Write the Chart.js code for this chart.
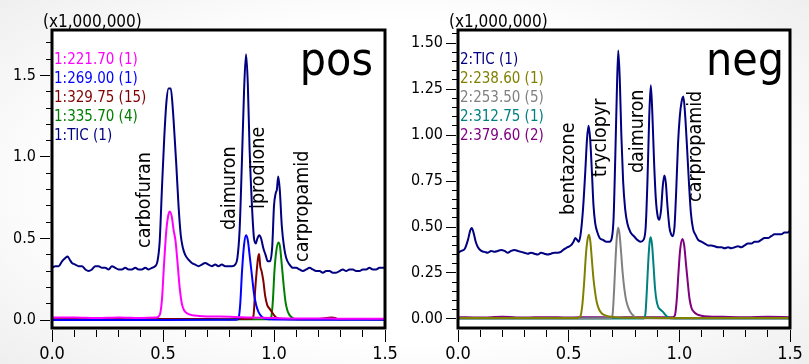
<!DOCTYPE html>
<html>
<head>
<meta charset="utf-8">
<script src="https://cdn.jsdelivr.net/npm/chart.js@4.4.1/dist/chart.umd.min.js"></script>
<style>
  html, body { margin: 0; padding: 0; }
  body {
    width: 809px; height: 364px; overflow: hidden; position: relative;
    background: radial-gradient(ellipse 75% 80% at 50% 50%, #ffffff 55%, #ebebeb 100%);
  }
  .panel { position: absolute; top: 0; height: 364px; }
  #posBox { left: 0; width: 404px; }
  #negBox { left: 404px; width: 405px; }
</style>
</head>
<body>
<div class="panel" id="posBox"><canvas id="posChart" width="404" height="364"></canvas></div>
<div class="panel" id="negBox"><canvas id="negChart" width="405" height="364"></canvas></div>
<script>
// ---------- positive mode traces (retention time in min, intensity x1,000,000) ----------
const posTicT = [
  0.000, 0.015, 0.030, 0.045, 0.060, 0.070, 0.080, 0.090, 0.105, 0.120,
  0.135, 0.150, 0.165, 0.180, 0.195, 0.210, 0.225, 0.240, 0.255, 0.270,
  0.285, 0.300, 0.315, 0.330, 0.345, 0.360, 0.375, 0.390, 0.405, 0.420,
  0.435, 0.450, 0.465, 0.475, 0.485, 0.495, 0.505, 0.515, 0.525, 0.535,
  0.545, 0.552, 0.560, 0.570, 0.580, 0.590, 0.600, 0.615, 0.630, 0.645,
  0.660, 0.675, 0.690, 0.705, 0.720, 0.735, 0.750, 0.765, 0.780, 0.795,
  0.810, 0.825, 0.835, 0.845, 0.855, 0.865, 0.874, 0.882, 0.890, 0.900,
  0.910, 0.918, 0.925, 0.933, 0.942, 0.952, 0.962, 0.972, 0.982, 0.992,
  1.000, 1.008, 1.013, 1.019, 1.026, 1.035, 1.045, 1.055, 1.070, 1.085,
  1.100, 1.115, 1.130, 1.145, 1.160, 1.175, 1.190, 1.205, 1.220, 1.235,
  1.250, 1.265, 1.280, 1.295, 1.310, 1.325, 1.340, 1.355, 1.370, 1.385,
  1.400, 1.415, 1.430, 1.445, 1.460, 1.475, 1.490, 1.500
];
const posTicY = [
  0.32, 0.33, 0.33, 0.36, 0.38, 0.39, 0.37, 0.35, 0.34, 0.33,
  0.33, 0.31, 0.30, 0.31, 0.33, 0.33, 0.32, 0.32, 0.31, 0.33,
  0.32, 0.31, 0.31, 0.32, 0.31, 0.31, 0.32, 0.31, 0.31, 0.32,
  0.31, 0.32, 0.33, 0.36, 0.48, 0.80, 1.10, 1.33, 1.42, 1.42,
  1.28, 1.13, 0.95, 0.70, 0.52, 0.44, 0.40, 0.37, 0.35, 0.34,
  0.33, 0.34, 0.35, 0.34, 0.33, 0.34, 0.33, 0.34, 0.33, 0.33,
  0.33, 0.34, 0.38, 0.55, 0.95, 1.40, 1.63, 1.45, 1.05, 0.72,
  0.50, 0.47, 0.50, 0.52, 0.50, 0.44, 0.40, 0.36, 0.36, 0.45,
  0.70, 0.78, 0.80, 0.88, 0.80, 0.58, 0.45, 0.38, 0.34, 0.32,
  0.32, 0.31, 0.30, 0.31, 0.32, 0.31, 0.30, 0.30, 0.29, 0.30,
  0.30, 0.29, 0.29, 0.30, 0.31, 0.30, 0.31, 0.31, 0.30, 0.30,
  0.31, 0.31, 0.32, 0.31, 0.31, 0.32, 0.32, 0.32
];
// m/z 221.70 (carbofuran)
const pos221T = [0.00, 0.10, 0.20, 0.30, 0.40, 0.47, 0.485, 0.495, 0.505, 0.515, 0.525, 0.531, 0.540, 0.548, 0.556, 0.565, 0.575, 0.585, 0.595, 0.610, 0.630, 0.660, 0.700, 0.800, 0.900, 1.000, 1.100, 1.200, 1.300, 1.400, 1.500];
const pos221Y = [0.015, 0.015, 0.012, 0.015, 0.012, 0.015, 0.03, 0.12, 0.35, 0.55, 0.65, 0.665, 0.63, 0.55, 0.49, 0.36, 0.20, 0.10, 0.06, 0.04, 0.03, 0.025, 0.022, 0.02, 0.015, 0.012, 0.01, 0.01, 0.008, 0.008, 0.008];
// m/z 269.00 (daimuron)
const pos269T = [0.00, 0.50, 0.83, 0.840, 0.848, 0.856, 0.865, 0.874, 0.882, 0.890, 0.900, 0.910, 0.920, 0.930, 0.945, 0.960, 1.00, 1.20, 1.50];
const pos269Y = [0.0, 0.0, 0.002, 0.01, 0.10, 0.30, 0.46, 0.52, 0.49, 0.40, 0.28, 0.16, 0.09, 0.05, 0.02, 0.008, 0.003, 0.002, 0.002];
// m/z 329.75 (iprodione)
const pos329T = [0.00, 0.20, 0.40, 0.60, 0.80, 0.900, 0.908, 0.915, 0.922, 0.928, 0.933, 0.938, 0.944, 0.952, 0.960, 0.970, 0.980, 0.990, 1.000, 1.010, 1.03, 1.10, 1.20, 1.26, 1.275, 1.29, 1.40, 1.50];
const pos329Y = [0.005, 0.008, 0.005, 0.006, 0.005, 0.008, 0.03, 0.18, 0.30, 0.38, 0.405, 0.33, 0.30, 0.24, 0.15, 0.09, 0.07, 0.05, 0.03, 0.015, 0.008, 0.005, 0.006, 0.015, 0.012, 0.005, 0.006, 0.005];
// m/z 335.70 (carpropamid)
const pos335T = [0.00, 0.50, 0.98, 0.988, 0.995, 1.002, 1.010, 1.020, 1.027, 1.035, 1.043, 1.052, 1.060, 1.070, 1.085, 1.10, 1.50];
const pos335Y = [0.003, 0.003, 0.004, 0.02, 0.12, 0.30, 0.42, 0.475, 0.45, 0.34, 0.22, 0.11, 0.06, 0.03, 0.012, 0.005, 0.003];

// ---------- negative mode traces ----------
const negTicT = [
  0.000, 0.015, 0.030, 0.045, 0.055, 0.062, 0.070, 0.080, 0.090, 0.105,
  0.120, 0.135, 0.150, 0.165, 0.180, 0.195, 0.210, 0.225, 0.240, 0.255,
  0.270, 0.285, 0.300, 0.315, 0.330, 0.345, 0.360, 0.375, 0.390, 0.405,
  0.420, 0.435, 0.450, 0.465, 0.480, 0.495, 0.510, 0.522, 0.530, 0.538,
  0.546, 0.555, 0.565, 0.575, 0.583, 0.590, 0.597, 0.605, 0.612, 0.620,
  0.630, 0.640, 0.655, 0.670, 0.685, 0.695, 0.703, 0.710, 0.717, 0.724,
  0.731, 0.738, 0.746, 0.755, 0.765, 0.780, 0.795, 0.810, 0.825, 0.838,
  0.848, 0.856, 0.864, 0.871, 0.878, 0.886, 0.894, 0.902, 0.910, 0.918,
  0.925, 0.932, 0.939, 0.946, 0.955, 0.963, 0.970, 0.978, 0.986, 0.994,
  1.002, 1.010, 1.018, 1.025, 1.034, 1.043, 1.052, 1.062, 1.072, 1.085,
  1.100, 1.115, 1.130, 1.145, 1.160, 1.175, 1.190, 1.205, 1.220, 1.235,
  1.250, 1.265, 1.280, 1.295, 1.310, 1.325, 1.340, 1.355, 1.370, 1.385,
  1.400, 1.415, 1.430, 1.445, 1.460, 1.475, 1.490, 1.500
];
const negTicY = [
  0.36, 0.37, 0.38, 0.43, 0.48, 0.495, 0.47, 0.42, 0.39, 0.37,
  0.365, 0.36, 0.37, 0.365, 0.37, 0.375, 0.37, 0.36, 0.37, 0.375,
  0.37, 0.365, 0.36, 0.355, 0.36, 0.355, 0.35, 0.36, 0.355, 0.35,
  0.355, 0.36, 0.36, 0.365, 0.38, 0.39, 0.40, 0.42, 0.44, 0.43,
  0.42, 0.47, 0.60, 0.80, 0.98, 1.05, 0.98, 0.80, 0.62, 0.52,
  0.47, 0.44, 0.43, 0.42, 0.42, 0.44, 0.55, 0.85, 1.20, 1.46,
  1.30, 1.00, 0.75, 0.60, 0.52, 0.47, 0.45, 0.43, 0.42, 0.43,
  0.50, 0.75, 1.10, 1.27, 1.12, 0.85, 0.65, 0.56, 0.54, 0.60,
  0.72, 0.78, 0.74, 0.62, 0.50, 0.46, 0.45, 0.50, 0.70, 0.95,
  1.10, 1.18, 1.21, 1.13, 0.95, 0.75, 0.58, 0.49, 0.46, 0.43,
  0.42, 0.41, 0.40, 0.40, 0.395, 0.39, 0.39, 0.385, 0.39, 0.385,
  0.39, 0.395, 0.39, 0.40, 0.41, 0.41, 0.42, 0.42, 0.43, 0.44,
  0.44, 0.45, 0.46, 0.46, 0.46, 0.47, 0.47, 0.48
];
// m/z 238.60 (bentazone)
const neg238T = [0.00, 0.20, 0.40, 0.54, 0.553, 0.562, 0.570, 0.578, 0.585, 0.592, 0.598, 0.605, 0.612, 0.620, 0.628, 0.638, 0.650, 0.665, 0.690, 0.72, 0.90, 1.20, 1.50];
const neg238Y = [0.005, 0.006, 0.005, 0.006, 0.015, 0.08, 0.20, 0.35, 0.43, 0.458, 0.42, 0.32, 0.22, 0.14, 0.085, 0.05, 0.03, 0.02, 0.012, 0.008, 0.006, 0.005, 0.005];
// m/z 253.50 (tryclopyr)
const neg253T = [0.00, 0.50, 0.69, 0.698, 0.705, 0.712, 0.718, 0.724, 0.730, 0.737, 0.744, 0.752, 0.760, 0.770, 0.780, 0.795, 0.81, 1.00, 1.50];
const neg253Y = [0.003, 0.003, 0.004, 0.02, 0.15, 0.33, 0.45, 0.496, 0.46, 0.36, 0.25, 0.16, 0.10, 0.06, 0.035, 0.015, 0.005, 0.003, 0.003];
// m/z 312.75 (daimuron)
const neg312T = [0.00, 0.50, 0.84, 0.847, 0.853, 0.860, 0.866, 0.871, 0.877, 0.884, 0.890, 0.897, 0.905, 0.915, 0.925, 0.935, 0.945, 0.96, 1.00, 1.50];
const neg312Y = [0.002, 0.002, 0.003, 0.03, 0.15, 0.32, 0.42, 0.444, 0.40, 0.28, 0.17, 0.10, 0.065, 0.05, 0.04, 0.025, 0.012, 0.004, 0.002, 0.002];
// m/z 379.60 (carpropamid)
const neg379T = [0.00, 0.10, 0.20, 0.30, 0.40, 0.50, 0.60, 0.70, 0.80, 0.90, 0.97, 0.980, 0.988, 0.996, 1.004, 1.014, 1.022, 1.030, 1.038, 1.046, 1.055, 1.065, 1.080, 1.100, 1.130, 1.20, 1.30, 1.40, 1.50];
const neg379Y = [0.01, 0.008, 0.012, 0.008, 0.01, 0.008, 0.01, 0.008, 0.01, 0.01, 0.01, 0.02, 0.10, 0.25, 0.38, 0.435, 0.40, 0.30, 0.20, 0.11, 0.06, 0.04, 0.025, 0.018, 0.014, 0.012, 0.01, 0.012, 0.01];

// ---------- text ----------
const posLegend = ['1:221.70 (1)', '1:269.00 (1)', '1:329.75 (15)', '1:335.70 (4)', '1:TIC (1)'];
const negLegend = ['2:TIC (1)', '2:238.60 (1)', '2:253.50 (5)', '2:312.75 (1)', '2:379.60 (2)'];
const posCompounds = ['carbofuran', 'daimuron', 'iprodione', 'carpropamid'];
const negCompounds = ['bentazone', 'tryclopyr', 'daimuron', 'carpropamid'];
const posXTicks = ['0.0', '0.5', '1.0', '1.5'];
const posYTicks = ['0.0', '0.5', '1.0', '1.5'];
const negYTicks = ['0.00', '0.25', '0.50', '0.75', '1.00', '1.25', '1.50'];

const FONT = '"DejaVu Sans Condensed", "DejaVu Sans", sans-serif';
const C = {
  navy: '#000080', magenta: '#ff00ff', blue: '#0000ff', maroon: '#800000', green: '#008000',
  olive: '#808000', gray: '#808080', teal: '#008080', purple: '#800080'
};

const pts = (t, v) => t.map((x, i) => ({ x, y: v[i] }));
const trace = (t, v, color) => ({
  data: pts(t, v), borderColor: color, borderWidth: 2, pointRadius: 0,
  cubicInterpolationMode: 'monotone', fill: false
});

// Frame, legend text, polarity tag and rotated compound names
function panelDecor(cfg) {
  return {
    id: 'panelDecor',
    beforeDatasetsDraw(chart) {
      const { ctx, chartArea: a } = chart;
      ctx.save();
      ctx.fillStyle = '#ffffff';
      ctx.fillRect(a.left, a.top, a.right - a.left, a.bottom - a.top);
      ctx.restore();
    },
    afterDatasetsDraw(chart) {
      const { ctx, chartArea: a, scales: { x, y } } = chart;
      ctx.save();
      ctx.textBaseline = 'alphabetic';
      ctx.textAlign = 'left';
      ctx.font = '15px ' + FONT;
      cfg.legend.forEach((txt, i) => {
        ctx.fillStyle = cfg.legendColors[i];
        ctx.fillText(txt, a.left + 2, a.top + 34 + i * 19);
      });
      ctx.fillStyle = '#000';
      ctx.font = '46px ' + FONT;
      ctx.textAlign = 'right';
      ctx.fillText(cfg.tag, a.right - cfg.tagInset, a.top + 45);
      ctx.textAlign = 'left';
      ctx.font = '19.5px ' + FONT;
      cfg.names.forEach((n) => {
        ctx.save();
        ctx.translate(x.getPixelForValue(n.t), y.getPixelForValue(n.v));
        ctx.rotate(-Math.PI / 2);
        ctx.fillText(n.text, 0, 0);
        ctx.restore();
      });
      ctx.lineWidth = 3;
      ctx.strokeStyle = '#000';
      ctx.strokeRect(a.left, a.top, a.right - a.left, a.bottom - a.top);
      ctx.font = '17px ' + FONT;
      ctx.fillText('(x1,000,000)', a.left - 9, a.top - 3);
      ctx.restore();
    }
  };
}

function makeOptions(yMax, yStep, yLabels, yLabelDigits, yWidth, yPad) {
  const isMajorY = (v) => yLabels.includes(v.toFixed(yLabelDigits));
  const isMajorX = (v) => posXTicks.includes(v.toFixed(1));
  return {
    responsive: false,
    animation: false,
    layout: { padding: { top: 30, right: 19, left: 0, bottom: 0 } },
    plugins: { legend: { display: false }, tooltip: { enabled: false } },
    scales: {
      x: {
        type: 'linear', min: 0, max: 1.5,
        border: { display: false },
        grid: {
          drawOnChartArea: false, tickLength: 14, tickColor: '#000', tickWidth: 1,
          tickBorderDash: (c) => (c.tick && isMajorX(c.tick.value)) ? [0, 2, 12, 1000] : [0, 2, 7, 1000]
        },
        ticks: {
          stepSize: 0.1, autoSkip: false, maxRotation: 0, includeBounds: false, padding: 2,
          color: '#000', font: { family: FONT, size: 18 },
          callback: (v) => isMajorX(v) ? v.toFixed(1) : ''
        },
        afterFit: (s) => { s.height = 36; }
      },
      y: {
        type: 'linear', min: -0.049, max: yMax,
        border: { display: false },
        grid: {
          drawOnChartArea: false, tickLength: 12, tickColor: '#000', tickWidth: 1,
          tickBorderDash: (c) => (c.tick && isMajorY(c.tick.value)) ? [10, 1000] : [0, 6, 6, 1000]
        },
        ticks: {
          stepSize: yStep, autoSkip: false, includeBounds: false, padding: yPad,
          color: '#000', font: { family: FONT, size: 16 },
          callback: (v) => isMajorY(v) ? v.toFixed(yLabelDigits) : ''
        },
        afterFit: (s) => { s.width = yWidth; }
      }
    }
  };
}

new Chart(document.getElementById('posChart'), {
  type: 'line',
  data: {
    datasets: [
      trace(pos221T, pos221Y, C.magenta),
      trace(pos269T, pos269Y, C.blue),
      trace(pos329T, pos329Y, C.maroon),
      trace(pos335T, pos335Y, C.green),
      trace(posTicT, posTicY, C.navy)
    ]
  },
  options: makeOptions(1.779, 0.1, posYTicks, 1, 52, 4),
  plugins: [panelDecor({
    legend: posLegend,
    legendColors: [C.magenta, C.blue, C.maroon, C.green, C.navy],
    tag: 'pos', tagInset: 12,
    names: [
      { text: posCompounds[0], t: 0.441, v: 0.442 },
      { text: posCompounds[1], t: 0.824, v: 0.552 },
      { text: posCompounds[2], t: 0.955, v: 0.681 },
      { text: posCompounds[3], t: 1.153, v: 0.356 }
    ]
  })]
});

new Chart(document.getElementById('negChart'), {
  type: 'line',
  data: {
    datasets: [
      trace(neg238T, neg238Y, C.olive),
      trace(neg253T, neg253Y, C.gray),
      trace(neg312T, neg312Y, C.teal),
      trace(neg379T, neg379Y, C.purple),
      trace(negTicT, negTicY, C.navy)
    ]
  },
  options: makeOptions(1.571, 0.05, negYTicks, 2, 54, 3),
  plugins: [panelDecor({
    legend: negLegend,
    legendColors: [C.navy, C.olive, C.gray, C.teal, C.purple],
    tag: 'neg', tagInset: 6,
    names: [
      { text: negCompounds[0], t: 0.524, v: 0.565 },
      { text: negCompounds[1], t: 0.669, v: 0.772 },
      { text: negCompounds[2], t: 0.836, v: 0.793 },
      { text: negCompounds[3], t: 1.098, v: 0.636 }
    ]
  })]
});
</script>
</body>
</html>
